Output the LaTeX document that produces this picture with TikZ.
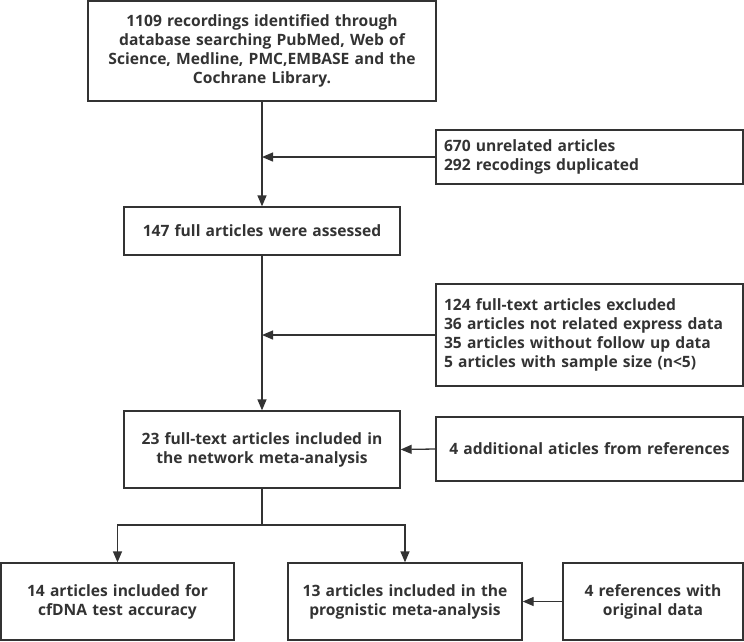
\documentclass[tikz,border=0pt]{standalone}
\usepackage{fontspec}
\setmainfont{Open Sans}
\usetikzlibrary{arrows.meta}
\definecolor{inkgray}{HTML}{333333}
\tikzset{
  box/.style={draw=inkgray,line width=1.3pt,rectangle,inner xsep=8pt,inner ysep=0pt,
    font=\fontsize{15.6}{19}\selectfont\bfseries,text=inkgray,align=center},
  sidebox/.style={box,align=left},
  arr/.style={draw=inkgray,line width=1.3pt,-{Triangle[length=11pt,width=9pt]}},
  link/.style={draw=inkgray,line width=1.3pt}
}
\begin{document}
\begin{tikzpicture}[x=1pt,y=-1pt]
\useasboundingbox (0,0) rectangle (744,641);
% main column
\node[box,text width=332pt,minimum height=100pt] (search) at (262,51)
  {1109 recordings identified through\\database searching PubMed, Web of\\Science, Medline, PMC,EMBASE and the\\Cochrane Library.};
\node[box,text width=260pt,minimum height=48pt] (assessed) at (262,231)
  {147 full articles were assessed};
\node[box,text width=260pt,minimum height=77pt] (included) at (262,449.5)
  {23 full-text articles included in\\the network meta-analysis};
% side boxes
\node[sidebox,text width=291pt,minimum height=54pt] (unrelated) at (589.5,157)
  {670 unrelated articles\\292 recodings duplicated};
\node[sidebox,text width=291pt,minimum height=102pt] (excluded) at (589.5,335)
  {124 full-text articles excluded\\36 articles not related express data\\35 articles without follow up data\\5 articles with sample size (n<5)};
\node[box,text width=291pt,minimum height=64pt] (additional) at (589.5,449)
  {4 additional aticles from references};
% bottom row
\node[box,text width=217pt,minimum height=77pt] (accuracy) at (117.5,601.5)
  {14 articles included for\\cfDNA test accuracy};
\node[box,text width=218pt,minimum height=77pt] (prognosis) at (405,601.5)
  {13 articles included in the\\prognistic meta-analysis};
\node[box,text width=164pt,minimum height=77pt] (original) at (653,601.5)
  {4 references with\\original data};
\coordinate (split) at (262,525);
% connectors
\draw[arr] (search) -- (assessed);
\draw[arr] (unrelated.west) -- (unrelated.west -| search.south);
\draw[arr] (assessed) -- (included);
\draw[arr] (excluded.west) -- (excluded.west -| assessed.south);
\draw[arr] (additional.west) -- (included.east);
\draw[link] (included.south) -- (split);
\draw[arr] (split) -| (accuracy.north);
\draw[arr] (split) -| (prognosis.north);
\draw[arr] (original.west) -- (prognosis.east);
\end{tikzpicture}
\end{document}
